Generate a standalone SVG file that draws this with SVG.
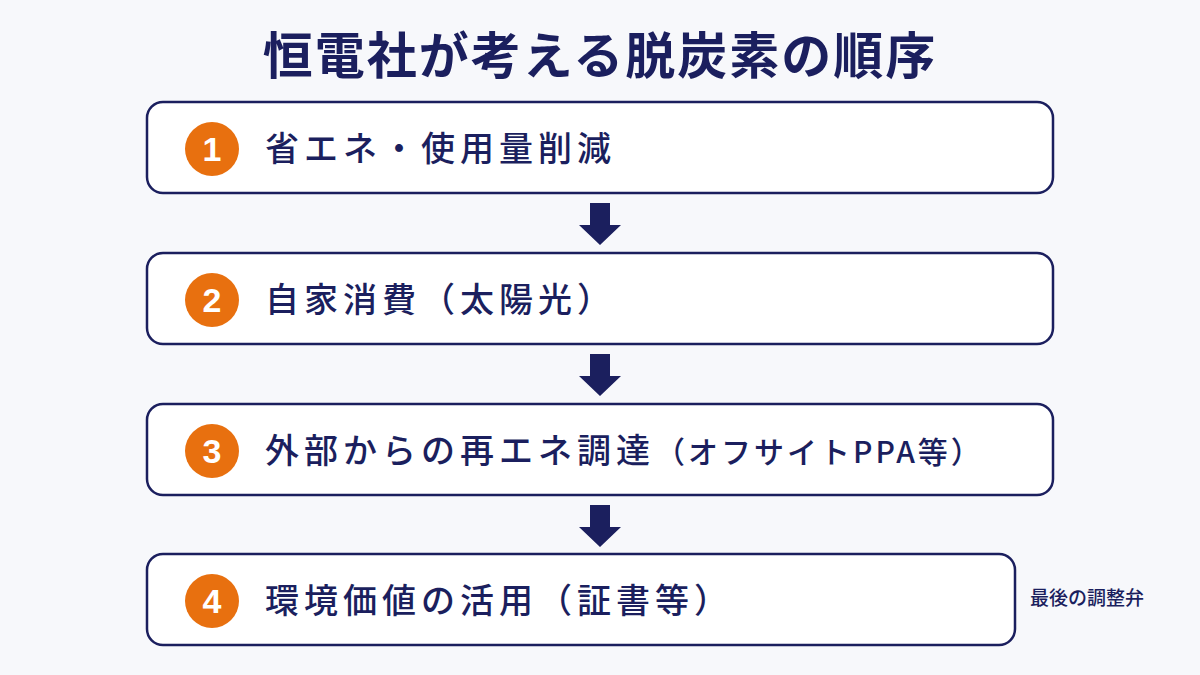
<svg xmlns="http://www.w3.org/2000/svg" width="1200" height="675" viewBox="0 0 1200 675">
<style>
text{font-family:"Noto Sans CJK JP","Noto Sans",sans-serif;fill:#1b1f5e}
.box{fill:#fff;stroke:#1b1f5e;stroke-width:2.5}
.num{fill:#e8700f}
.nt{fill:#fff;font-size:34px;font-weight:700;text-anchor:middle;font-family:"Liberation Sans",sans-serif}
.lb{font-size:34px;font-weight:500;letter-spacing:5px}
.arr{fill:#1b1f5e}
</style>
<rect width="1200" height="675" fill="#f7f8fb"/>
<text x="600" y="74" font-size="50" font-weight="700" text-anchor="middle" letter-spacing="2">恒電社が考える脱炭素の順序</text>
<g id="n1"><rect class="box" x="147" y="102" width="906" height="91" rx="16"/><circle class="num" cx="212" cy="149" r="27"/><text class="nt" x="212" y="161">1</text><text class="lb" x="265" y="161">省エネ・使用量削減</text></g>
<g id="n2"><rect class="box" x="147" y="253" width="906" height="91" rx="16"/><circle class="num" cx="212" cy="300" r="27"/><text class="nt" x="212" y="312">2</text><text class="lb" x="265" y="312">自家消費（太陽光）</text></g>
<g id="n3"><rect class="box" x="147" y="404" width="906" height="91" rx="16"/><circle class="num" cx="212" cy="451" r="27"/><text class="nt" x="212" y="463">3</text><text class="lb" x="265" y="463">外部からの再エネ調達<tspan font-size="30" letter-spacing="3">（オフサイトPPA等）</tspan></text></g>
<g id="n4"><rect class="box" x="147" y="554" width="868" height="91" rx="16"/><circle class="num" cx="212" cy="601" r="27"/><text class="nt" x="212" y="613">4</text><text class="lb" x="265" y="613">環境価値の活用（証書等）</text></g>
<text x="1030" y="605" font-size="19" font-weight="500">最後の調整弁</text>
<g id="connectors">
<polygon class="arr" points="590,203 610,203 610,225 621,225 600,245 579,225 590,225"/>
<polygon class="arr" points="590,354 610,354 610,376 621,376 600,396 579,376 590,376"/>
<polygon class="arr" points="590,505 610,505 610,527 621,527 600,547 579,527 590,527"/>
</g>
</svg>
